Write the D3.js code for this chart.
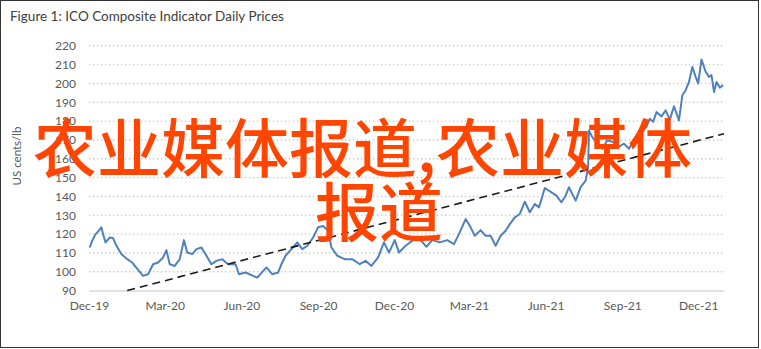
<!DOCTYPE html>
<html>
<head>
<meta charset="utf-8">
<script src="https://cdn.jsdelivr.net/npm/d3@7"></script>
<style>
  body { margin: 0; background: #fff; }
  svg { display: block; font-family: Lato, "Open Sans", sans-serif; }
</style>
</head>
<body>
<svg width="761" height="349"></svg>
<script>
// ICO composite indicator (US cents/lb)
const dates = [
  "2019-12-02","2019-12-05","2019-12-09","2019-12-13","2019-12-16","2019-12-18","2019-12-21","2019-12-26","2019-12-30",
  "2020-01-03","2020-01-09","2020-01-16","2020-01-22","2020-01-30","2020-02-04","2020-02-10","2020-02-16","2020-02-22","2020-02-28",
  "2020-03-03","2020-03-07","2020-03-13","2020-03-19","2020-03-24","2020-03-28","2020-04-03","2020-04-08","2020-04-14","2020-04-20","2020-04-26",
  "2020-05-02","2020-05-09","2020-05-16","2020-05-25","2020-05-29","2020-06-06","2020-06-15","2020-06-20","2020-07-01","2020-07-08","2020-07-15",
  "2020-07-19","2020-07-24","2020-07-31","2020-08-07","2020-08-13","2020-08-19","2020-08-26","2020-09-01","2020-09-07","2020-09-13","2020-09-17",
  "2020-09-24","2020-10-03","2020-10-12","2020-10-21","2020-10-28","2020-11-04","2020-11-12","2020-11-19","2020-11-25","2020-12-02","2020-12-07",
  "2020-12-15","2020-12-24","2021-01-02","2021-01-09","2021-01-16","2021-01-25","2021-02-03","2021-02-11","2021-02-17","2021-02-25","2021-03-03",
  "2021-03-08","2021-03-15","2021-03-21","2021-03-27","2021-04-02","2021-04-08","2021-04-14","2021-04-19","2021-04-25","2021-05-01","2021-05-07",
  "2021-05-13","2021-05-19","2021-05-24","2021-05-31","2021-06-08","2021-06-14","2021-06-20","2021-06-25","2021-06-29","2021-07-07","2021-07-13",
  "2021-07-19","2021-07-22","2021-07-23","2021-07-27","2021-08-02","2021-08-08","2021-08-14","2021-08-21","2021-08-27","2021-09-03","2021-09-09",
  "2021-09-15","2021-09-23","2021-09-30","2021-10-04","2021-10-08","2021-10-12","2021-10-18","2021-10-23","2021-10-28","2021-11-02","2021-11-08",
  "2021-11-12","2021-11-16","2021-11-20","2021-11-24","2021-11-28","2021-12-01","2021-12-05","2021-12-10","2021-12-14","2021-12-17","2021-12-20",
  "2021-12-23","2021-12-27","2021-12-31"
];
const prices = [
  112.9,116.5,120.0,121.8,123.6,120.0,115.6,118.2,117.9,
  113.8,109.4,106.7,104.9,100.5,97.8,98.7,104.0,104.9,107.6,
  111.5,104.0,103.1,106.7,116.8,110.2,109.4,112.0,112.9,108.5,104.0,
  105.8,106.7,104.0,104.0,98.7,99.6,97.8,96.9,102.3,98.7,99.6,
  104.0,108.5,112.0,115.6,112.0,113.8,118.2,123.6,124.3,121.8,112.9,
  108.5,106.7,106.7,104.0,105.8,103.1,107.6,115.6,110.2,116.8,110.2,
  113.8,116.8,116.8,113.3,116.8,115.6,116.8,114.7,120.0,128.0,123.6,
  119.1,122.1,119.1,119.1,113.8,119.1,121.8,125.3,128.9,130.7,137.2,
  131.6,136.0,134.2,144.5,142.2,140.4,136.9,140.4,144.9,137.8,144.9,
  148.4,155.5,175.0,171.5,168.0,165.3,169.8,168.9,166.2,168.0,165.3,
  169.8,174.2,176.9,181.3,179.6,184.8,182.5,185.7,180.8,187.9,180.4,
  193.7,196.4,200.8,208.8,203.5,200.0,212.7,206.2,203.5,204.4,195.5,
  200.8,197.8,199.1
];
const trendDates = ["2020-01-16", "2022-01-01"];
const trendValues = [90, 173.3];
const yTicks = [90, 100, 110, 120, 130, 140, 150, 160, 170, 180, 190, 200, 210, 220];
const xTicks = ["2019-12-01","2020-03-01","2020-06-01","2020-09-01","2020-12-01","2021-03-01","2021-06-01","2021-09-01","2021-12-01"];

const parse = d3.timeParse("%Y-%m-%d");
let svg = d3.select("svg");

let x = d3.scaleTime().domain([parse("2019-12-01"), parse("2022-01-01")]).range([88.9, 724]);
let y = d3.scaleLinear().domain([90, 220]).range([290.6, 45.8]);

// frame
svg.append("rect")
  .attr("x", 0.5).attr("y", 0.5).attr("width", 758).attr("height", 347)
  .attr("fill", "#fff").attr("stroke", "#333").attr("stroke-width", 1);

// title
svg.append("text")
  .attr("x", 10).attr("y", 21)
  .attr("font-size", "13.5px").attr("fill", "#404040")
  .text("Figure 1: ICO Composite Indicator Daily Prices");

// dotted gridlines
svg.append("g").selectAll("line")
  .data(yTicks.filter(d => d > 90))
  .enter().append("line")
  .attr("x1", x.range()[0]).attr("x2", x.range()[1])
  .attr("y1", d => y(d)).attr("y2", d => y(d))
  .attr("stroke", "#c9c9c9").attr("stroke-width", 1.4)
  .attr("stroke-dasharray", "1.4,2.6");

// axes
let yAxis = svg.append("g")
  .attr("transform", "translate(" + x.range()[0] + ",0)")
  .call(d3.axisLeft(y).tickValues(yTicks).tickSize(0).tickPadding(13));
yAxis.select(".domain").remove();
yAxis.selectAll("text").attr("font-size", "12px").attr("fill", "#595959").attr("font-family", "Lato, sans-serif");

let xAxis = svg.append("g")
  .attr("transform", "translate(0," + y(90) + ")")
  .call(d3.axisBottom(x).tickValues(xTicks.map(parse)).tickFormat(d3.timeFormat("%b-%y")).tickSize(0).tickPadding(11));
xAxis.select(".domain").attr("stroke", "#d9d9d9").attr("stroke-width", 1.5);
xAxis.selectAll("text").attr("font-size", "12px").attr("fill", "#595959").attr("font-family", "Lato, sans-serif");

// y axis title
svg.append("text")
  .attr("transform", "translate(21,156) rotate(-90)")
  .attr("text-anchor", "middle")
  .attr("font-size", "11.5px").attr("fill", "#595959")
  .text("US cents/lb");

// price line
let line = d3.line().x(d => x(d[0])).y(d => y(d[1]));
let series = dates.map((d, i) => [parse(d), prices[i]]);
svg.append("path")
  .datum(series)
  .attr("fill", "none").attr("stroke", "#4f81bd").attr("stroke-width", 2)
  .attr("stroke-linejoin", "round")
  .attr("d", line);

// linear trend
let trend = trendDates.map((d, i) => [parse(d), trendValues[i]]);
svg.append("path")
  .datum(trend)
  .attr("fill", "none").attr("stroke", "#1a1a1a").attr("stroke-width", 1.6)
  .attr("stroke-dasharray", "8,5")
  .attr("d", line);

// overlay caption
let cap = svg.append("g")
  .attr("font-family", "'Noto Sans CJK SC', sans-serif")
  .attr("font-size", "64px").attr("font-weight", 500).attr("fill", "#ff4500");
cap.append("text").attr("x", 33).attr("y", 172).text("农业媒体报道,农业媒体");
cap.append("text").attr("x", 315).attr("y", 236).text("报道");
</script>
</body>
</html>
